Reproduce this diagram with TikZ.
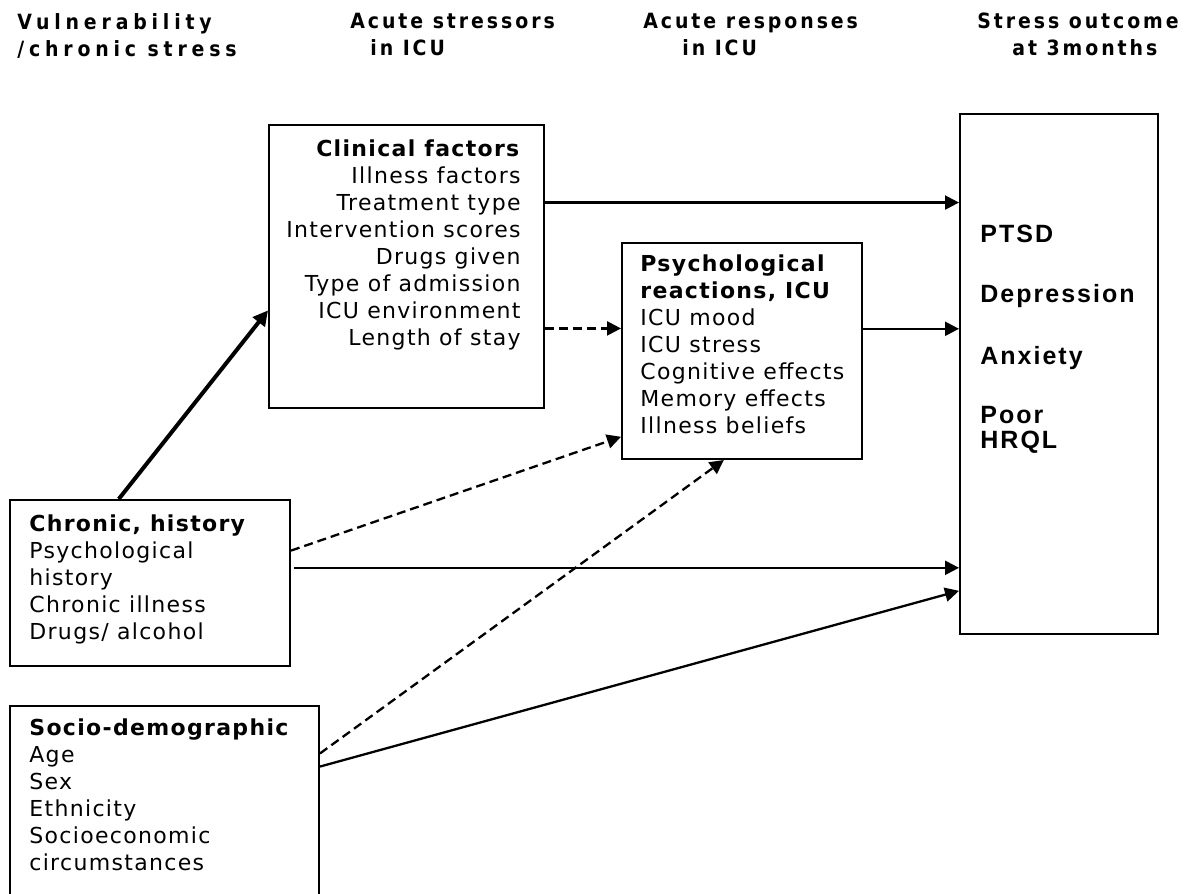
\documentclass[tikz,border=0pt]{standalone}
\usepackage{fontspec}
\setmainfont{DejaVu Sans}[LetterSpace=6]
\newfontfamily\headfont{DejaVu Sans Condensed Bold}[LetterSpace=14]
\newfontfamily\headwidefont{DejaVu Sans Condensed Bold}[LetterSpace=23]
\newfontfamily\outfont{Liberation Sans}[LetterSpace=8]
\usetikzlibrary{arrows.meta,calc}

\tikzset{
  box/.style={draw, line width=1pt, rectangle, inner sep=0pt, anchor=north west},
  boxtext/.style={inner sep=0pt, font=\fontsize{11}{13.5}\selectfont},
  head/.style={inner sep=0pt, anchor=north west, align=left,
               font=\headfont\fontsize{10.5}{13.5}\selectfont},
  outcome/.style={inner sep=0pt, anchor=north west, align=left,
                  font=\outfont\bfseries\fontsize{12.5}{12.5}\selectfont},
  link/.style={line width=1.15pt, -{Triangle[length=7pt,width=7pt]}},
  thicklink/.style={line width=2pt, -{Triangle[length=7.5pt,width=7.5pt]}},
  dlink/.style={link, dash pattern=on 4.5pt off 2.5pt},
}

\begin{document}
\begin{tikzpicture}[x=0.5pt,y=-0.5pt]
\clip (0,0) rectangle (1200,894);
\fill[white] (0,0) rectangle (1200,894);

% column headings
\node[head, font=\headwidefont\fontsize{10.5}{13.5}\selectfont] (h1) at (17,13) {Vulnerability\\/chronic stress};
\node[head] (h2) at (350,13) {Acute stressors\\\hspace*{10pt}in ICU};
\node[head] (h3) at (643,13) {Acute responses\\\hspace*{19.5pt}in ICU};
\node[head] (h4) at (977,13) {Stress outcome\\\hspace*{17.5pt}at 3months};

% boxes
\node[box, minimum width=275*0.5pt, minimum height=283*0.5pt] (clin) at (268,124) {};
\node[box, minimum width=240*0.5pt, minimum height=216*0.5pt] (psy) at (621,242) {};
\node[box, minimum width=280*0.5pt, minimum height=166*0.5pt] (chr) at (9,499) {};
\node[box, minimum width=309*0.5pt, minimum height=220*0.5pt] (soc) at (9,705) {};
\node[box, minimum width=198*0.5pt, minimum height=520*0.5pt] (out) at (959,113) {};

% box contents
\node[boxtext, anchor=north east, align=right] (clint) at (521,139)
  {\textbf{Clinical factors}\\Illness factors\\Treatment type\\Intervention scores\\Drugs given\\Type of admission\\ICU environment\\Length of stay};
\node[boxtext, anchor=north west, align=left] (psyt) at (640,254)
  {\textbf{Psychological}\\\textbf{reactions, ICU}\\ICU mood\\ICU stress\\Cognitive effects\\Memory effects\\Illness beliefs};
\node[boxtext, anchor=north west, align=left] (chrt) at (29,514)
  {\textbf{Chronic, history}\\Psychological\\history\\Chronic illness\\Drugs/ alcohol};
\node[boxtext, anchor=north west, align=left] (soct) at (29,718)
  {\textbf{Socio-demographic}\\Age\\Sex\\Ethnicity\\Socioeconomic\\circumstances};

\node[outcome] (o1) at (980,225) {PTSD};
\node[outcome] (o2) at (980,284) {Depression};
\node[outcome] (o3) at (980,346) {Anxiety};
\node[outcome] (o4) at (980,406) {Poor\\HRQL};

% connector end points on the box borders
\coordinate (c1) at ($(clin.north east)!0.2756!(clin.south east)$);
\coordinate (c2) at ($(clin.north east)!0.7173!(clin.south east)$);
\coordinate (p1) at ($(psy.north east)!0.3982!(psy.south east)$);
\coordinate (p2) at ($(psy.north west)!0.8935!(psy.south west)$);
\coordinate (p3) at ($(psy.south west)!0.4250!(psy.south east)$);
\coordinate (k1) at ($(chr.north west)!0.3893!(chr.north east)$);
\coordinate (k2) at ($(chr.north east)!0.3072!(chr.south east)$);
\coordinate (k3) at ($(chr.north east)!0.4096!(chr.south east)+(3,0)$);
\coordinate (s1) at ($(soc.north east)!0.2182!(soc.south east)$);
\coordinate (s2) at ($(soc.north east)!0.2773!(soc.south east)$);
\coordinate (l1) at ($(clin.north west)!0.6540!(clin.south west)$);
\coordinate (o8) at ($(out.north west)!0.9154!(out.south west)$);

% connectors
\draw[thicklink] (k1) -- (l1);
\draw[link] (c1) -- (c1 -| out.west);
\draw[dlink] (c2) -- (c2 -| psy.west);
\draw[link] (p1) -- (p1 -| out.west);
\draw[dlink] (k2) -- (p2);
\draw[link] (k3) -- (k3 -| out.west);
\draw[dlink] (s1) -- (p3);
\draw[link] (s2) -- (o8);
\end{tikzpicture}
\end{document}
